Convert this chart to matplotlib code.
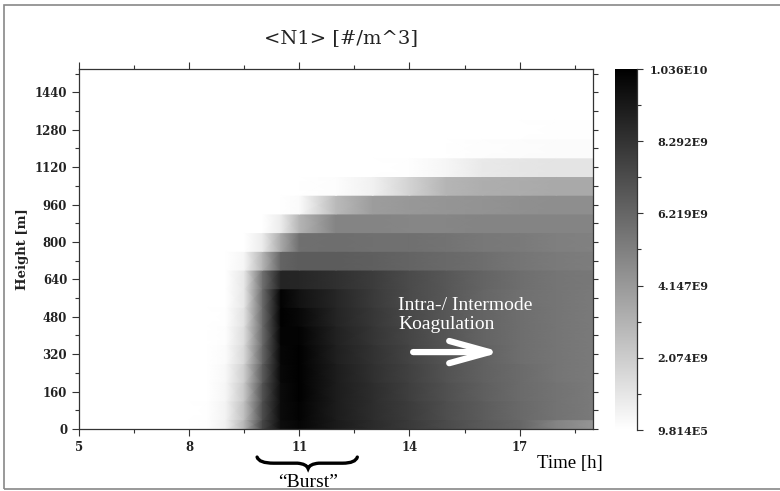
import numpy as np
import matplotlib
matplotlib.use("Agg")
import matplotlib.pyplot as plt
import matplotlib.transforms as mtransforms
from matplotlib.path import Path
from matplotlib.patches import PathPatch, Rectangle

# time axis of the sampled columns [h]
times = [5, 8, 8.5, 9, 9.5, 10, 10.5, 11, 12, 13, 14, 15, 16, 17, 18, 19]
# row centres [m], each row is 80 m thick
heights = [0, 80, 160, 240, 320, 400, 480, 560, 640, 720, 800, 880,
           960, 1040, 1120, 1200, 1280, 1360, 1440, 1520]

# N1 number concentration in 1e9 #/m^3, one list per height row
n1 = [
    [0, 0, 0.10, 0.60, 3.0, 7.5, 9.8, 10.1, 9.3, 8.6, 8.0, 7.3, 6.7, 6.2, 5.0, 4.3],
    [0, 0, 0.05, 0.50, 2.6, 7.2, 9.9, 10.2, 9.2, 8.5, 7.9, 7.2, 6.6, 6.1, 5.7, 5.4],
    [0, 0, 0.03, 0.40, 2.3, 7.0, 9.9, 10.3, 9.2, 8.5, 7.8, 7.1, 6.5, 6.0, 5.7, 5.4],
    [0, 0, 0.02, 0.30, 2.0, 6.6, 10.0, 10.3, 9.2, 8.4, 7.7, 7.0, 6.4, 6.0, 5.6, 5.4],
    [0, 0, 0.01, 0.20, 1.6, 6.2, 10.1, 10.3, 9.1, 8.3, 7.6, 6.9, 6.4, 5.9, 5.6, 5.4],
    [0, 0, 0, 0.10, 1.4, 6.0, 10.2, 10.2, 9.0, 8.2, 7.5, 6.9, 6.3, 5.9, 5.6, 5.4],
    [0, 0, 0, 0.05, 1.2, 6.0, 10.3, 10.0, 8.9, 8.1, 7.4, 6.8, 6.3, 5.9, 5.6, 5.4],
    [0, 0, 0, 0.02, 1.0, 6.0, 10.2, 9.6, 8.8, 8.0, 7.3, 6.8, 6.2, 5.8, 5.6, 5.4],
    [0, 0, 0, 0, 1.0, 5.8, 8.9, 8.8, 8.4, 7.9, 7.3, 6.8, 6.3, 5.9, 5.6, 5.5],
    [0, 0, 0, 0, 0.4, 3.0, 6.3, 6.6, 6.6, 6.5, 6.3, 6.1, 5.9, 5.6, 5.4, 5.3],
    [0, 0, 0, 0, 0, 0.8, 3.5, 5.8, 5.9, 5.8, 5.8, 5.7, 5.5, 5.4, 5.2, 5.1],
    [0, 0, 0, 0, 0, 0, 0.8, 3.0, 5.0, 5.0, 4.9, 4.9, 5.0, 5.0, 5.0, 5.0],
    [0, 0, 0, 0, 0, 0, 0, 0.2, 2.8, 4.0, 4.2, 4.3, 4.4, 4.5, 4.6, 4.6],
    [0, 0, 0, 0, 0, 0, 0, 0, 0.1, 0.6, 1.8, 3.0, 3.3, 3.4, 3.5, 3.5],
    [0, 0, 0, 0, 0, 0, 0, 0, 0, 0, 0.05, 0.4, 0.9, 1.05, 1.1, 1.1],
    [0, 0, 0, 0, 0, 0, 0, 0, 0, 0, 0, 0.02, 0.1, 0.15, 0.2, 0.2],
    [0, 0, 0, 0, 0, 0, 0, 0, 0, 0, 0, 0, 0.02, 0.04, 0.05, 0.05],
    [0, 0, 0, 0, 0, 0, 0, 0, 0, 0, 0, 0, 0, 0, 0, 0],
    [0, 0, 0, 0, 0, 0, 0, 0, 0, 0, 0, 0, 0, 0, 0, 0],
    [0, 0, 0, 0, 0, 0, 0, 0, 0, 0, 0, 0, 0, 0, 0, 0],
]

cbar_ticks = [9.814e5, 2.074e9, 4.147e9, 6.219e9, 8.292e9, 1.036e10]
cbar_labels = ["9.814E5", "2.074E9", "4.147E9", "6.219E9", "8.292E9", "1.036E10"]
x_ticks = [5, 8, 11, 14, 17]
y_ticks = [0, 160, 320, 480, 640, 800, 960, 1120, 1280, 1440]

tick_font = "DejaVu Serif"
y_top = 1540

fig = plt.figure(figsize=(7.8, 4.91), dpi=100)
ax = fig.add_axes([0.1013, 0.1263, 0.659, 0.7332])
cax = fig.add_axes([0.7885, 0.1242, 0.0282, 0.7352])

# each row is a flat band in height, smooth in time -> duplicate band edges
vals = np.array(n1) * 1e9
edges = []
for h in heights:
    edges.append(max(h - 40, 0))
    edges.append(min(h + 40, y_top))
edges = np.array(edges, dtype=float)
C = np.repeat(vals, 2, axis=0)
T, Y = np.meshgrid(np.array(times, dtype=float), edges)
mesh = ax.pcolormesh(T, Y, C, shading="gouraud", cmap="gray_r",
                     vmin=cbar_ticks[0], vmax=cbar_ticks[-1], rasterized=True)

ax.set_xlim(5, 19)
ax.set_ylim(0, y_top)

spine_col = "#333333"
for s in ax.spines.values():
    s.set_color(spine_col)
    s.set_linewidth(0.9)

ax.set_xticks(x_ticks)
ax.set_xticks([6.5, 9.5, 12.5, 15.5, 18.5], minor=True)
ax.set_yticks(y_ticks)
ax.set_yticks(np.arange(80, 1540, 160), minor=True)
ax.tick_params(which="both", direction="out", top=True, color=spine_col, width=0.8,
               labelsize=8.5, labelcolor="#222222")
ax.tick_params(which="major", length=5)
ax.tick_params(which="minor", length=3)
for lab in ax.get_xticklabels() + ax.get_yticklabels():
    lab.set_family(tick_font)
    lab.set_fontweight("bold")

# right-hand ticks every 80 m, all the same length
sec = ax.secondary_yaxis("right")
sec.set_yticks(np.arange(0, 1540, 80))
sec.tick_params(direction="out", length=3.6, width=0.8, color=spine_col, labelright=False)
sec.spines["right"].set_visible(False)

ax.set_ylabel("Height [m]", family=tick_font, fontsize=9.5, fontweight="bold",
              color="#222222")
ax.yaxis.set_label_coords(-0.097, 0.5)

# colorbar
cb = fig.colorbar(mesh, cax=cax)
cb.outline.set_visible(False)
cb.solids.set_rasterized(True)
cax.plot([1, 1], [0, 1], transform=cax.transAxes, color=spine_col, lw=0.9, clip_on=False)
cb.set_ticks(cbar_ticks, labels=cbar_labels)
cax.set_yticks([(a + b) / 2 for a, b in zip(cbar_ticks[:-1], cbar_ticks[1:])], minor=True)
cax.tick_params(which="major", length=4.3, width=0.8, color=spine_col, pad=47,
                labelsize=8, labelcolor="#222222")
cax.tick_params(which="minor", length=2.9, width=0.8, color=spine_col)
for lab in cax.get_yticklabels():
    lab.set_family(tick_font)
    lab.set_fontweight("bold")
    lab.set_ha("right")

# title and annotations
fig.text(0.437, 0.923, "<N1> [#/m^3]", family=tick_font, fontsize=14,
         ha="center", va="center", color="#222222")
fig.text(0.731, 0.057, "Time [h]", family="Liberation Serif", fontsize=13.5,
         ha="center", va="center")
fig.text(0.395, 0.018, "\u201cBurst\u201d", family="Liberation Serif", fontsize=14,
         ha="center", va="center")

ax.text(13.69, 488, "Intra-/ Intermode\nKoagulation", family="Liberation Serif",
        fontsize=14, color="white", ha="left", va="center", linespacing=1.2)
ax.annotate("", xy=(16.5, 329), xytext=(14.1, 329),
            arrowprops=dict(arrowstyle="->,head_length=2.9,head_width=0.8",
                            mutation_scale=10, lw=4.5, color="white",
                            shrinkA=0, shrinkB=0))

# curly brace under the burst period
trans = mtransforms.blended_transform_factory(ax.transData, ax.transAxes)
verts = [(9.85, -0.078), (9.9, -0.095), (10.3, -0.095),
         (10.95, -0.095), (11.2, -0.097), (11.24, -0.110),
         (11.28, -0.097), (11.53, -0.095), (12.18, -0.095),
         (12.53, -0.095), (12.58, -0.078)]
codes = [Path.MOVETO, Path.CURVE3, Path.CURVE3,
         Path.LINETO, Path.CURVE3, Path.CURVE3,
         Path.CURVE3, Path.CURVE3, Path.LINETO,
         Path.CURVE3, Path.CURVE3]
brace = PathPatch(Path(verts, codes), transform=trans, fill=False,
                  lw=2.4, color="black", clip_on=False, capstyle="round")
ax.add_patch(brace)

# outer frame
fig.patches.append(Rectangle((0.005, 0.004), 1.1, 0.986, transform=fig.transFigure,
                             fill=False, edgecolor="#888888", lw=1.2))

fig.savefig("out.png", dpi=100)
